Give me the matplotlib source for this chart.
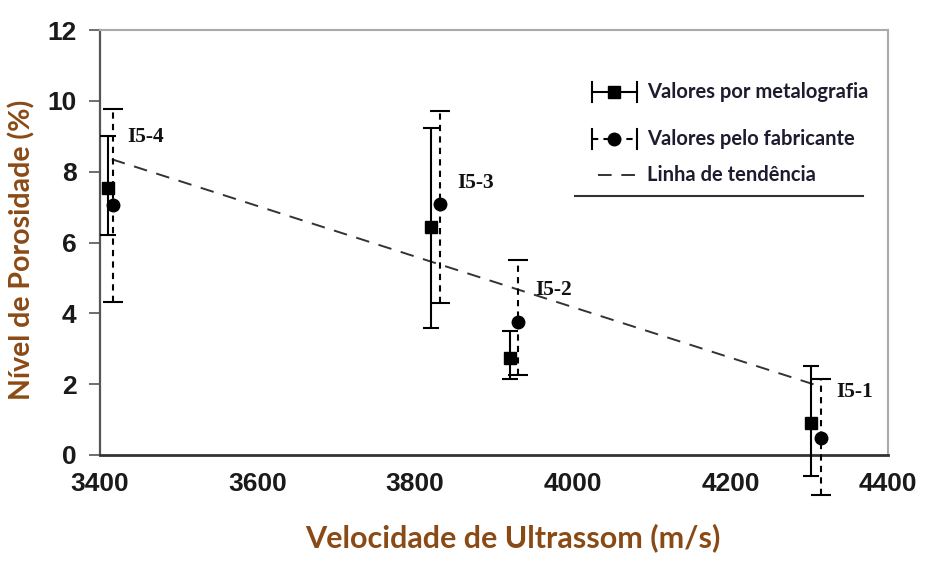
import matplotlib
matplotlib.use("Agg")
import matplotlib.pyplot as plt
from matplotlib.lines import Line2D

# ---------------- data ----------------
labels = ["I5-4", "I5-3", "I5-2", "I5-1"]
metal_x = [3410, 3820, 3920, 4302]
metal_y = [7.55, 6.45, 2.75, 0.90]
metal_err_low = [1.35, 2.86, 0.60, 1.50]
metal_err_high = [1.45, 2.79, 0.75, 1.60]

fab_x = [3417, 3831, 3930, 4315]
fab_y = [7.05, 7.10, 3.76, 0.48]
fab_err_low = [2.72, 2.80, 1.50, 1.60]
fab_err_high = [2.72, 2.62, 1.74, 1.68]

trend_x = [3415, 4312]
trend_y = [8.35, 1.95]

x_ticks = [3400, 3600, 3800, 4000, 4200, 4400]
y_ticks = [0, 2, 4, 6, 8, 10, 12]

legend_labels = ["Valores por metalografia", "Valores pelo fabricante", "Linha de tendência"]
xlabel = "Velocidade de Ultrassom (m/s)"
ylabel = "Nível de Porosidade (%)"

# label offsets (points) relative to fabricante point
label_offsets = [(10, 49), (13, 15), (13, 23), (11, 33)]

# ---------------- figure ----------------
fig = plt.figure(figsize=(9.28, 5.61), dpi=100)
ax = fig.add_axes([100 / 928, 1 - 455 / 561, 788 / 928, 425 / 561])

lab_color = "#8A4A16"
txt_color = "#1c1c2e"

# trend line
ax.plot(trend_x, trend_y, linestyle=(0, (7, 5)), color="#333333", lw=1.4, zorder=2)

# metalografia
eb1 = ax.errorbar(metal_x, metal_y, yerr=[metal_err_low, metal_err_high], fmt="s",
                  color="black", ms=8, capsize=6, elinewidth=1.5, capthick=1.5,
                  clip_on=False, zorder=3)
# fabricante
eb2 = ax.errorbar(fab_x, fab_y, yerr=[fab_err_low, fab_err_high], fmt="o",
                  color="black", ms=9, capsize=7.5, elinewidth=1.5, capthick=1.5,
                  clip_on=False, zorder=3)
eb2[2][0].set_linestyle((0, (3, 2.5)))
for art in list(eb1[1]) + list(eb1[2]) + list(eb2[1]) + list(eb2[2]):
    art.set_clip_on(False)

for lab, x, y, off in zip(labels, fab_x, fab_y, label_offsets):
    ax.annotate(lab, (x, y), xytext=off, textcoords="offset points",
                fontfamily="Liberation Serif", fontweight="bold", fontsize=15.5,
                ha="left", va="center", color="#111111")

ax.set_xlim(3400, 4400)
ax.set_ylim(0, 12)
ax.set_xticks(x_ticks)
ax.set_yticks(y_ticks)
ax.tick_params(axis="x", length=0, pad=12, labelsize=19)
ax.tick_params(axis="y", length=8, width=1.2, pad=9, labelsize=19, direction="out",
               color="#555555")
for t in ax.get_xticklabels() + ax.get_yticklabels():
    t.set_fontfamily("Liberation Sans")
    t.set_fontweight("bold")
    t.set_color("#1a1a1a")

ax.spines["left"].set_color("#555555")
ax.spines["left"].set_linewidth(1.6)
ax.spines["bottom"].set_color("#333333")
ax.spines["bottom"].set_linewidth(2)
for s in ["top", "right"]:
    ax.spines[s].set_color("#aaaaaa")
    ax.spines[s].set_linewidth(1.5)
    ax.spines[s].set_linestyle((0, (1, 0.6)))

ax.set_xlabel(xlabel, fontfamily="Lato", fontweight="bold", fontsize=22,
              color=lab_color, va="center")
ax.set_ylabel(ylabel, fontfamily="Lato", fontweight="bold", fontsize=20.5,
              color=lab_color, va="center")
ax.xaxis.set_label_coords((513 - 100) / 788, (455 - 538) / 425)
ax.yaxis.set_label_coords((22 - 100) / 788, (455 - 250) / 425)

# ---------------- legend (drawn manually in axes coordinates) ----------------
def ax_xy(px, py):
    x0, w = 100, 788
    y0, h = 455, 425
    return (px - x0) / w, (y0 - py) / h

T = ax.transAxes
# row 1
(a, b), (c, d) = ax_xy(592, 92), ax_xy(637, 92)
ax.add_line(Line2D([a, c], [b, d], transform=T, color="black", lw=1.5))
for px in (592, 637):
    p, q1 = ax_xy(px, 82); _, q2 = ax_xy(px, 102)
    ax.add_line(Line2D([p, p], [q1, q2], transform=T, color="black", lw=1.5))
m, n = ax_xy(614, 92)
ax.add_line(Line2D([m], [n], transform=T, marker="s", ms=8, color="black"))
# row 2
(a, b), (c, d) = ax_xy(592, 139), ax_xy(637, 139)
ax.add_line(Line2D([a, c], [b, d], transform=T, color="black", lw=1.5, linestyle=(0, (3, 2.5))))
for px in (592, 637):
    p, q1 = ax_xy(px, 129); _, q2 = ax_xy(px, 149)
    ax.add_line(Line2D([p, p], [q1, q2], transform=T, color="black", lw=1.5))
m, n = ax_xy(614, 139)
ax.add_line(Line2D([m], [n], transform=T, marker="o", ms=9, color="black"))
# row 3
(a, b), (c, d) = ax_xy(598, 175), ax_xy(640, 175)
ax.add_line(Line2D([a, c], [b, d], transform=T, color="#333333", lw=1.4, linestyle=(0, (7, 5))))
# texts
for text, py in zip(legend_labels, [92, 139, 175]):
    tx, ty = ax_xy(647, py)
    ax.text(tx, ty, text, transform=T, fontfamily="Lato", fontweight="bold",
            fontsize=14.5, color=txt_color, ha="left", va="center")
# underline
(a, b), (c, d) = ax_xy(575, 196), ax_xy(863, 196)
ax.add_line(Line2D([a, c], [b, d], transform=T, color="#333333", lw=1.5))

fig.savefig("out.png", dpi=100)
